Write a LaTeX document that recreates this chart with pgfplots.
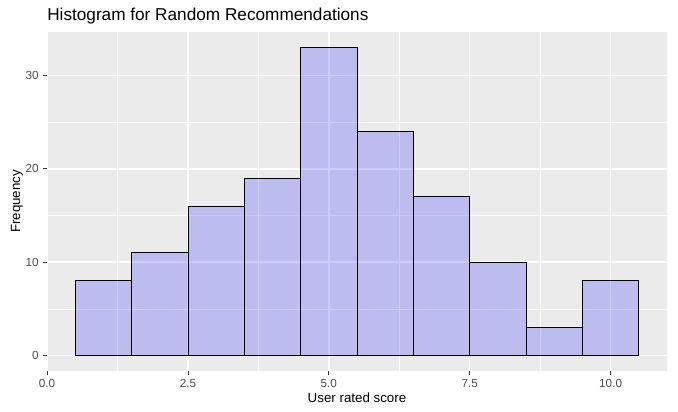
\documentclass[border=0pt]{standalone}
\usepackage{fontspec}
\setmainfont{Liberation Sans}
\usepackage{pgfplots}
\pgfplotsset{compat=1.18}
\definecolor{panelbg}{HTML}{EBEBEB}
\definecolor{ticktext}{HTML}{4D4D4D}
\definecolor{tickmark}{HTML}{333333}

\begin{document}
\begin{tikzpicture}
\begin{axis}[
    scale only axis, width=465pt, height=254.25pt,
    xmin=0, xmax=11, ymin=-1.65, ymax=34.65,
    axis background/.style={fill=panelbg},
    axis line style={draw=none},
    tick pos=left, tick align=outside,
    major tick length=2.75pt, minor tick length=0pt,
    every tick/.style={tickmark, line width=0.5pt},
    xtick={0,2.5,5,7.5,10}, xticklabels={0.0,2.5,5.0,7.5,10.0},
    ytick={0,10,20,30},
    minor xtick={1.25,3.75,6.25,8.75}, minor ytick={5,15,25},
    grid=both,
    major grid style={white, line width=1.07pt},
    minor grid style={white, line width=0.53pt},
    ticklabel style={font=\fontsize{8.8}{10}\selectfont, text=ticktext},
    /pgf/number format/assume math mode=true,
    xlabel={User rated score}, ylabel={Frequency},
    label style={font=\fontsize{11}{13}\selectfont},
    every axis x label/.style={at={([yshift=-20.25pt]rel axis cs:0.5,0)}, anchor=center},
    every axis y label/.style={at={([xshift=-22.5pt]rel axis cs:0,0.5)}, rotate=90, anchor=center},
    clip=false
]
% counts per unit-width bin, 0.5 to 10.5
\addplot[ybar interval, fill=blue, fill opacity=0.2, draw=black, line width=0.6pt]
    coordinates {(0.5,8) (1.5,11) (2.5,16) (3.5,19) (4.5,33) (5.5,24) (6.5,17) (7.5,10) (8.5,3) (9.5,8) (10.5,8)};
\node[anchor=base west, font=\fontsize{12.9}{15}\selectfont, inner sep=0pt]
    at ([yshift=8.25pt]rel axis cs:0,1) {Histogram for Random Recommendations};
\end{axis}
\pgfresetboundingbox
\path ([xshift=-35.25pt,yshift=-30pt]current axis.south west) rectangle ([xshift=8.25pt,yshift=24pt]current axis.north east);
\end{tikzpicture}
\end{document}
